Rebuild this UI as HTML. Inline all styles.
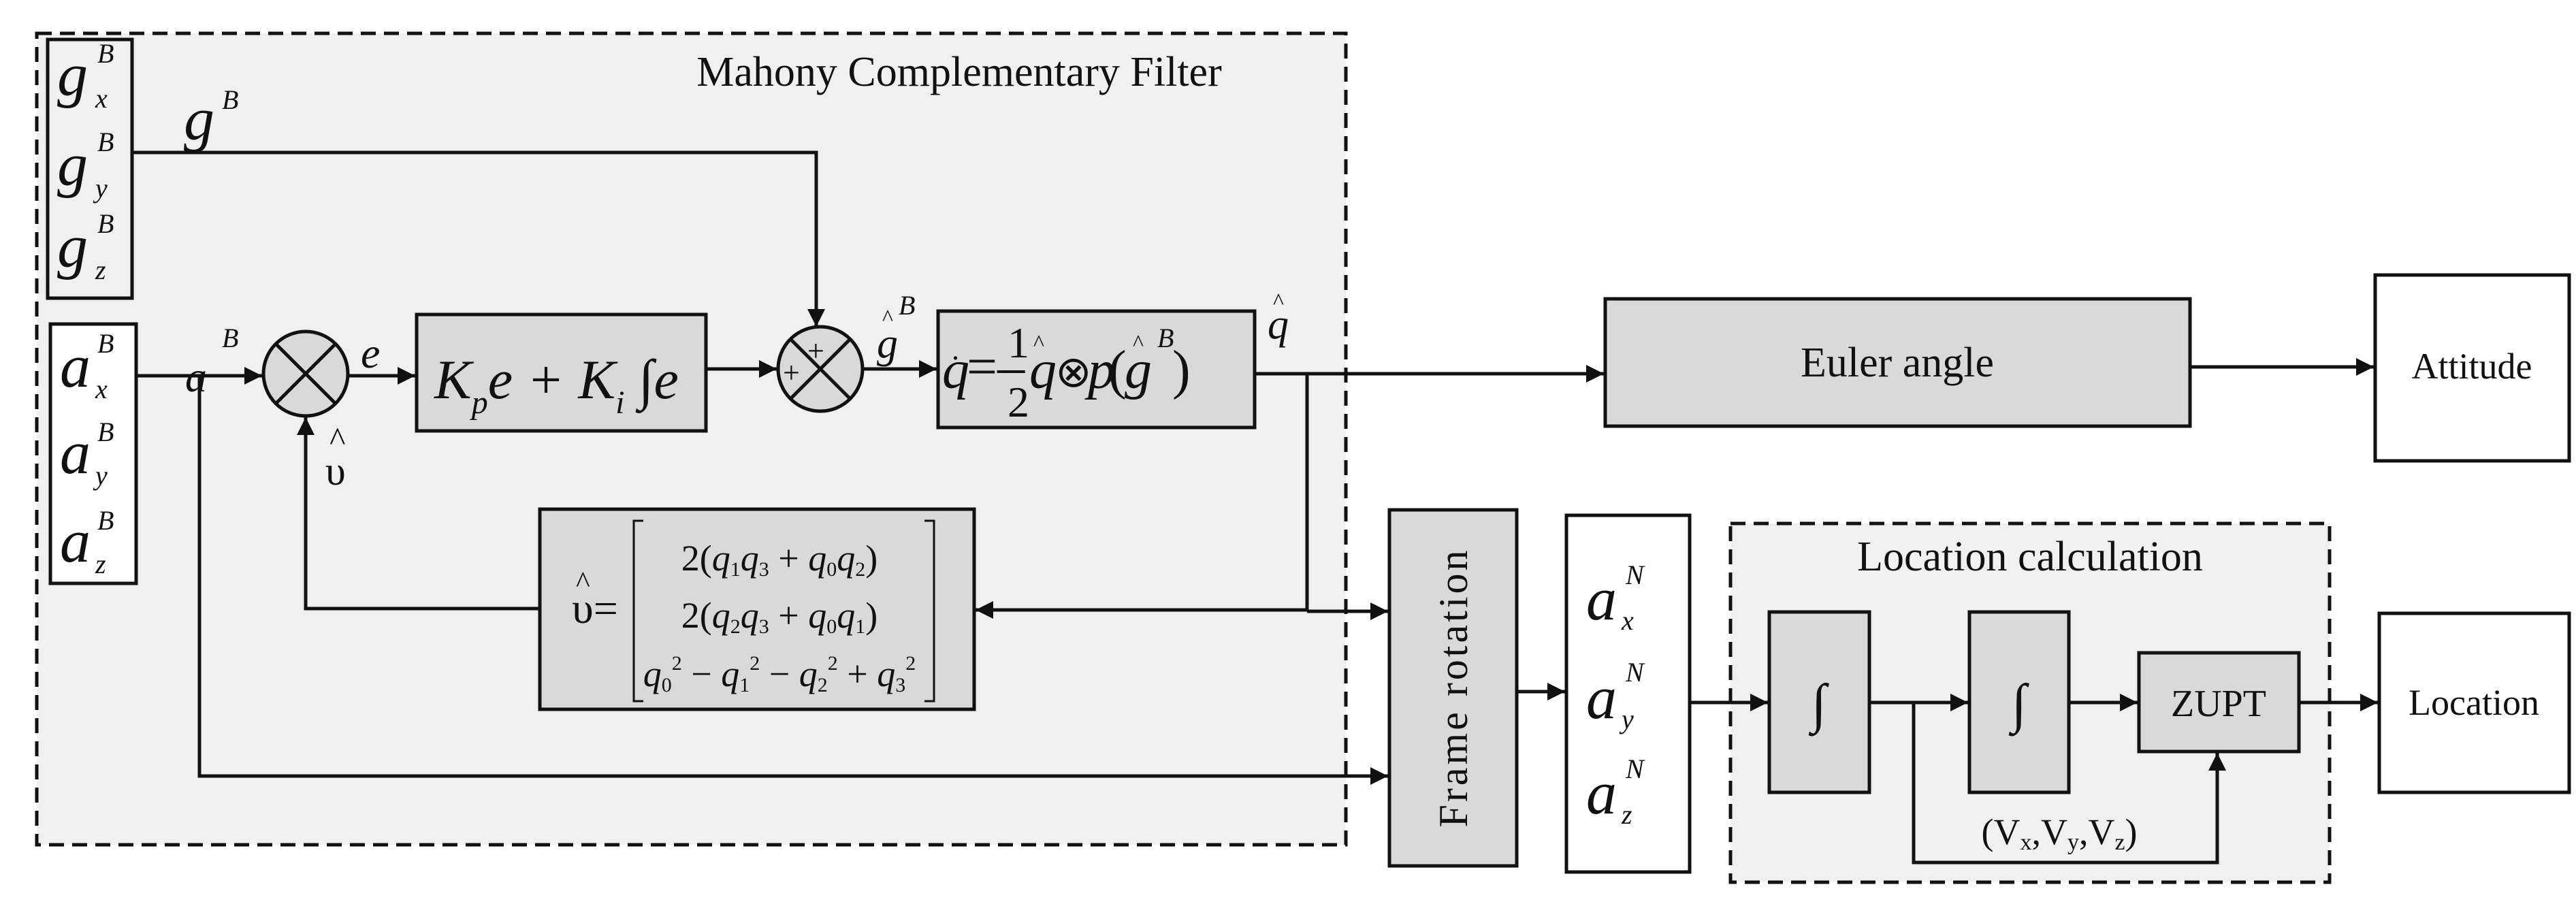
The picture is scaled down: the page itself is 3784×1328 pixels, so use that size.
<!DOCTYPE html>
<html><head><style>html,body{margin:0;padding:0;background:#fff}svg{display:block}
text{font-family:"Liberation Serif",serif;fill:#111}.i{font-style:italic}</style></head>
<body>
<svg width="3784" height="1328" viewBox="0 0 3784 1328" xmlns="http://www.w3.org/2000/svg">
<defs>
<marker id="A" viewBox="0 0 10 10" refX="10" refY="5" markerWidth="26" markerHeight="26" orient="auto" markerUnits="userSpaceOnUse"><path d="M0,0 L10,5 L0,10 z" fill="#111"/></marker></defs>
<g stroke="#111" stroke-width="5">
<rect x="54" y="49" width="1923" height="1192" fill="#f0f0f0" stroke-dasharray="22,12"/>
<rect x="2542" y="769" width="880" height="527" fill="#f0f0f0" stroke-dasharray="22,12"/>
<rect x="70" y="58" width="124" height="380" fill="#f0f0f0"/>
<rect x="74" y="476" width="126" height="381" fill="#fff"/>
<rect x="612" y="462" width="425" height="171" fill="#d9d9d9"/>
<rect x="1378" y="457" width="465" height="171" fill="#d9d9d9"/>
<rect x="793" y="748" width="638" height="294" fill="#d9d9d9"/>
<rect x="2358" y="439" width="859" height="187" fill="#d9d9d9"/>
<rect x="3489" y="404" width="285" height="273" fill="#fff"/>
<rect x="2041" y="749" width="187" height="523" fill="#d9d9d9"/>
<rect x="2301" y="757" width="181" height="524" fill="#fff"/>
<rect x="2599" y="899" width="147" height="265" fill="#d9d9d9"/>
<rect x="2893" y="899" width="146" height="265" fill="#d9d9d9"/>
<rect x="3142" y="959" width="235" height="145" fill="#d9d9d9"/>
<rect x="3495" y="901" width="279" height="263" fill="#fff"/>
<circle cx="449" cy="549" r="62" fill="#d9d9d9"/>
<path d="M405,505 L493,593 M493,505 L405,593" fill="none"/>
<circle cx="1205" cy="542" r="62" fill="#d9d9d9"/>
<path d="M1161,498 L1249,586 M1249,498 L1161,586" fill="none"/>
<g fill="none">
<path d="M194,224 H1199 V480" marker-end="url(#A)"/>
<path d="M200,552 H385" marker-end="url(#A)"/>
<path d="M511,552 H610" marker-end="url(#A)"/>
<path d="M1037,542 H1141" marker-end="url(#A)"/>
<path d="M1267,542 H1376" marker-end="url(#A)"/>
<path d="M1843,549 H2356" marker-end="url(#A)"/>
<path d="M3217,539 H3487" marker-end="url(#A)"/>
<path d="M1920,549 V898"/>
<path d="M1920,896 H1433" marker-end="url(#A)"/>
<path d="M1920,898 H2039" marker-end="url(#A)"/>
<path d="M793,894 H449 V613" marker-end="url(#A)"/>
<path d="M293,552 V1140 H2039" marker-end="url(#A)"/>
<path d="M2228,1016 H2299" marker-end="url(#A)"/>
<path d="M2482,1032 H2597" marker-end="url(#A)"/>
<path d="M2746,1032 H2891" marker-end="url(#A)"/>
<path d="M3039,1032 H3140" marker-end="url(#A)"/>
<path d="M3377,1032 H3493" marker-end="url(#A)"/>
<path d="M2811,1032 V1267 H3257 V1106" marker-end="url(#A)"/>
<path d="M1358,765 h14 v265 h-14 M945,765 h-14 v265 h14" stroke-width="3"/>
</g>
</g>
<text x="1409" y="126" font-size="62" text-anchor="middle">Mahony Complementary Filter</text>
<g class="i" font-size="90">
<text x="84" y="140">g</text><text x="84" y="272">g</text><text x="84" y="392">g</text>
<text x="88" y="568">a</text><text x="88" y="695">a</text><text x="88" y="825">a</text>
<text x="270" y="205">g</text>
</g>
<g class="i" font-size="64"><text x="272" y="575">a</text><text x="530" y="540">e</text>
<text x="1288" y="525" font-size="62">g</text><text x="1862" y="497" font-size="62">q</text></g>
<g class="i" font-size="40">
<text x="143" y="92">B</text><text x="143" y="222">B</text><text x="143" y="342">B</text>
<text x="143" y="518">B</text><text x="143" y="648">B</text><text x="143" y="778">B</text>
<text x="140" y="158">x</text><text x="140" y="290">y</text><text x="140" y="410">z</text>
<text x="140" y="585">x</text><text x="140" y="712">y</text><text x="140" y="842">z</text>
<text x="326" y="160">B</text><text x="326" y="510">B</text><text x="1320" y="462">B</text>
</g>
<text x="1296" y="478" font-size="34">^</text><text x="1870" y="454" font-size="34">^</text>
<text x="484" y="662" font-size="50">^</text><text x="478" y="712" font-size="60">υ</text>
<text x="638" y="585" font-size="82" class="i">K<tspan font-size="48" dy="22">p</tspan><tspan dy="-22">e + K</tspan><tspan font-size="48" dy="22">i</tspan><tspan dy="-22" font-style="normal"> ∫</tspan>e</text>
<text x="1186" y="530" font-size="44">+</text><text x="1150" y="562" font-size="44">+</text>
<g font-size="80">
<text x="1384" y="570" class="i">q</text>
<text x="1420" y="565">=–</text>
<text x="1480" y="525" font-size="64">1</text><text x="1480" y="612" font-size="64">2</text>
<text x="1512" y="570" class="i">q</text>
<text x="1550" y="568" font-size="64">⊗</text>
<text x="1598" y="570" class="i">p</text>
<text x="1628" y="570">(</text>
<text x="1652" y="570" class="i">g</text>
<text x="1722" y="570">)</text>
</g>
<text x="1398" y="528" font-size="44">.</text><text x="1518" y="515" font-size="34">^</text>
<text x="1664" y="515" font-size="34">^</text><text x="1700" y="510" font-size="40" class="i">B</text>
<text x="840" y="915" font-size="64">υ=</text><text x="846" y="870" font-size="44">^</text>
<g font-size="54" text-anchor="middle">
<text x="1145" y="838">2(<tspan class="i">q</tspan><tspan font-size="30" dy="8">1</tspan><tspan class="i" dy="-8">q</tspan><tspan font-size="30" dy="8">3</tspan><tspan dy="-8"> + </tspan><tspan class="i">q</tspan><tspan font-size="30" dy="8">0</tspan><tspan class="i" dy="-8">q</tspan><tspan font-size="30" dy="8">2</tspan><tspan dy="-8">)</tspan></text>
<text x="1145" y="922">2(<tspan class="i">q</tspan><tspan font-size="30" dy="8">2</tspan><tspan class="i" dy="-8">q</tspan><tspan font-size="30" dy="8">3</tspan><tspan dy="-8"> + </tspan><tspan class="i">q</tspan><tspan font-size="30" dy="8">0</tspan><tspan class="i" dy="-8">q</tspan><tspan font-size="30" dy="8">1</tspan><tspan dy="-8">)</tspan></text>
<text x="1145" y="1008"><tspan class="i">q</tspan><tspan font-size="30" dy="8">0</tspan><tspan font-size="30" dy="-32">2</tspan><tspan dy="24"> − </tspan><tspan class="i">q</tspan><tspan font-size="30" dy="8">1</tspan><tspan font-size="30" dy="-32">2</tspan><tspan dy="24"> − </tspan><tspan class="i">q</tspan><tspan font-size="30" dy="8">2</tspan><tspan font-size="30" dy="-32">2</tspan><tspan dy="24"> + </tspan><tspan class="i">q</tspan><tspan font-size="30" dy="8">3</tspan><tspan font-size="30" dy="-32">2</tspan></text>
</g>
<text x="2787" y="553" font-size="62" text-anchor="middle">Euler angle</text>
<text x="3631" y="556" font-size="54" text-anchor="middle">Attitude</text>
<text x="3634" y="1050" font-size="54" text-anchor="middle">Location</text>
<text x="2982" y="838" font-size="62" text-anchor="middle">Location calculation</text>
<text x="3259" y="1052" font-size="56" text-anchor="middle">ZUPT</text>
<text x="2672" y="1060" font-size="80" text-anchor="middle">∫</text>
<text x="2966" y="1060" font-size="80" text-anchor="middle">∫</text>
<text x="3025" y="1240" font-size="54" text-anchor="middle">(V<tspan font-size="34" dy="8">x</tspan><tspan dy="-8">,V</tspan><tspan font-size="34" dy="8">y</tspan><tspan dy="-8">,V</tspan><tspan font-size="34" dy="8">z</tspan><tspan dy="-8">)</tspan></text>
<text transform="translate(2155,1010) rotate(-90)" font-size="60" text-anchor="middle" letter-spacing="4">Frame rotation</text>
<g class="i"><text x="2330" y="910" font-size="90">a</text><text x="2330" y="1055" font-size="90">a</text><text x="2330" y="1195" font-size="90">a</text>
<text x="2388" y="858" font-size="40">N</text><text x="2388" y="1001" font-size="40">N</text><text x="2388" y="1143" font-size="40">N</text>
<text x="2382" y="925" font-size="40">x</text><text x="2382" y="1070" font-size="40">y</text><text x="2382" y="1210" font-size="40">z</text></g>
</svg>
</body></html>
